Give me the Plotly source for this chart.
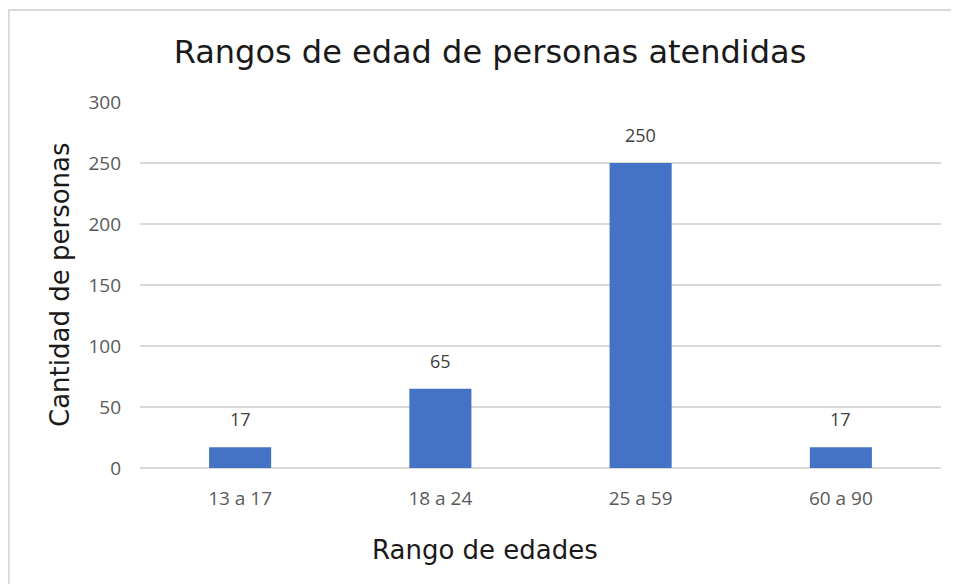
import plotly.graph_objects as go

categories = ["13 a 17", "18 a 24", "25 a 59", "60 a 90"]
values = [17, 65, 250, 17]
y_ticks = [0, 50, 100, 150, 200, 250, 300]

W, H = 951, 576
L, R, T, B = 132, 18, 94, 116
PW, PH = W - L - R, H - T - B

title_font = "DejaVu Sans, Noto Sans, sans-serif"
tick_font = "Open Sans, Lato, sans-serif"

fig = go.Figure()
fig.add_trace(go.Bar(
    x=categories, y=values,
    marker=dict(color="#4472C4", line=dict(width=0)),
    hoverinfo="x+y",
))

annotations = [
    dict(x=c, y=v, xref="x", yref="y", text=str(v), showarrow=False,
         yanchor="bottom", yshift=14,
         font=dict(family=tick_font, size=18, color="#404040"))
    for c, v in zip(categories, values)
]
annotations.append(dict(
    text="Cantidad de personas", textangle=-90, showarrow=False,
    xref="paper", yref="paper", x=(60 - 8 - L) / PW, y=0.5,
    xanchor="center", yanchor="middle",
    font=dict(family=title_font, size=26, color="#1a1a1a"),
))
annotations.append(dict(
    text="Rango de edades", showarrow=False,
    xref="paper", yref="paper", x=(485 - 8 - L) / PW, y=-(550 - 468) / PH,
    xanchor="center", yanchor="middle",
    font=dict(family=title_font, size=26, color="#1a1a1a"),
))

fig.update_layout(
    width=W, height=H,
    margin=dict(l=L, r=R, t=T, b=B),
    paper_bgcolor="white", plot_bgcolor="white",
    bargap=0.69,
    showlegend=False,
    title=dict(
        text="Rangos de edad de personas atendidas",
        x=(490 - 8) / W, xref="container", xanchor="center",
        y=1 - 44 / H, yref="container", yanchor="middle",
        font=dict(family=title_font, size=32, color="#1a1a1a"),
    ),
    xaxis=dict(
        showgrid=False, showline=False, zeroline=False,
        tickfont=dict(family=tick_font, size=19, color="#595959"),
        ticks="", ticklabelstandoff=17,
    ),
    yaxis=dict(
        range=[0, 300], tickvals=y_ticks,
        showgrid=True, gridcolor="#d9d9d9", gridwidth=1.5,
        zeroline=True, zerolinecolor="#d9d9d9", zerolinewidth=1.5,
        showline=False, ticks="", ticklabelstandoff=18,
        tickfont=dict(family=tick_font, size=19, color="#595959"),
    ),
    annotations=annotations,
    shapes=[dict(type="rect", xref="paper", yref="paper",
                 x0=(8 - 8 - L) / PW + 0.001, x1=1.2, y0=-0.5, y1=(468 - 10) / PH,
                 line=dict(color="#d9d9d9", width=2), fillcolor="rgba(0,0,0,0)", layer="below")],
)

fig.write_html("out.html")
